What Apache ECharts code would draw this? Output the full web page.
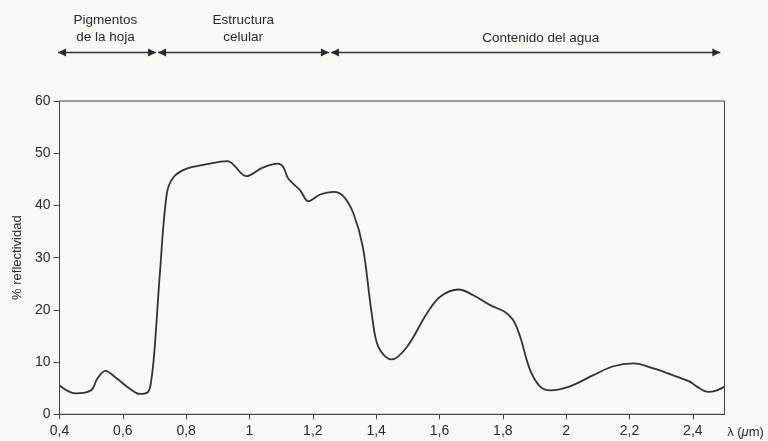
<!DOCTYPE html>
<html>
<head>
<meta charset="utf-8">
<script src="https://cdn.jsdelivr.net/npm/echarts@6/dist/echarts.min.js"></script>
<style>
html,body{margin:0;padding:0;background:#f8f8f6;}
#chart{width:768px;height:441px;}
</style>
</head>
<body>
<div id="chart"></div>
<script>
// ---- data ----
var wavelength = [0.40,0.45,0.50,0.52,0.545,0.58,0.62,0.655,0.68,0.69,0.70,0.717,0.739,0.76,0.80,0.865,0.93,0.99,1.04,1.09,1.107,1.123,1.16,1.186,1.223,1.265,1.296,1.328,1.358,1.386,1.407,1.449,1.497,1.56,1.602,1.66,1.707,1.76,1.807,1.833,1.855,1.886,1.918,1.95,2.01,2.086,2.149,2.212,2.276,2.349,2.392,2.413,2.449,2.476,2.5];
var reflectance = [5.5,4.0,4.6,6.9,8.3,6.9,5.0,3.9,4.3,6.6,12.3,27.0,42.3,45.4,47.0,47.9,48.5,45.6,47.2,48.0,47.3,45.1,42.9,40.8,42.1,42.6,41.8,38.5,32.0,19.3,12.9,10.5,12.9,19.3,22.5,23.9,22.8,20.9,19.6,18.0,14.8,8.5,5.3,4.6,5.3,7.5,9.2,9.75,8.8,7.2,6.2,5.3,4.3,4.6,5.3];
var regionLabels = ['Pigmentos\nde la hoja', 'Estructura\ncelular', 'Contenido del agua'];
var regionStart = [0.4, 0.708, 1.254];
var regionEnd = [0.708, 1.254, 2.49];
var regionLabelAt = [0.545, 0.98, 1.92];
var xAxisName = 'λ (μm)';
var yAxisName = '% reflectividad';

var points = wavelength.map(function (w, i) { return [w, reflectance[i]]; });
var font = "'Liberation Sans', Arial, sans-serif";
var txt = '#2a2a2a';

var chart = echarts.init(document.getElementById('chart'));
chart.setOption({
  backgroundColor: '#f8f8f6',
  animation: false,
  grid: {left: 59.5, right: 43.5, top: 101, bottom: 26.7, show: true, borderColor: '#444', borderWidth: 1, backgroundColor: 'transparent'},
  xAxis: {
    type: 'value', min: 0.4, max: 2.5, interval: 0.2,
    axisLine: {lineStyle: {color: '#444', width: 1}},
    axisTick: {show: true, length: 5, lineStyle: {color: '#444'}},
    splitLine: {show: false},
    axisLabel: {
      color: txt, fontSize: 14, fontFamily: font, margin: 10, showMaxLabel: false,
      formatter: function (v) { if (Math.abs(v - 2.5) < 1e-6) return ''; return String(+v.toFixed(1)).replace('.', ','); }
    }
  },
  yAxis: {
    type: 'value', min: 0, max: 60, interval: 10,
    name: yAxisName, nameLocation: 'middle', nameGap: 36,
    nameTextStyle: {color: txt, fontSize: 13, fontFamily: font},
    axisLine: {show: true, lineStyle: {color: '#444', width: 1}},
    axisTick: {show: true, length: 6, lineStyle: {color: '#444'}},
    splitLine: {show: false},
    axisLabel: {color: txt, fontSize: 14, fontFamily: font, margin: 9}
  },
  series: [{
    type: 'line', data: points, smooth: 0.35, symbol: 'none',
    lineStyle: {color: '#333', width: 1.8}
  }]
});

function px(w) { return chart.convertToPixel({xAxisIndex: 0}, w); }
var lineY = 52.5;
var g = [];
function arrow(tipX, dir) {
  // dir = -1 pointing left, +1 pointing right
  var L = 8, H = 4;
  return {type: 'polygon', shape: {points: [[tipX, lineY], [tipX - dir * L, lineY - H], [tipX - dir * L, lineY + H]]}, style: {fill: '#2a2a2a'}};
}
for (var i = 0; i < regionLabels.length; i++) {
  var a = px(regionStart[i]) + (i === 0 ? -1.5 : 1);
  var b = px(regionEnd[i]) - 1;
  g.push({type: 'line', shape: {x1: a, y1: lineY, x2: b, y2: lineY}, style: {stroke: '#333', lineWidth: 1.6}});
  g.push(arrow(a, -1));
  g.push(arrow(b, 1));
  var lines = regionLabels[i].split('\n');
  var cx = px(regionLabelAt[i]);
  var baseY = lines.length === 1 ? 38 : 20;
  for (var k = 0; k < lines.length; k++) {
    g.push({type: 'text', x: cx, y: baseY + k * 17, style: {text: lines[k], fill: txt, font: '13.5px ' + font, align: 'center', verticalAlign: 'middle'}});
  }
}
// x axis name placed beside the last tick label, with italic mu
var nameRich = xAxisName.replace('μ', '{i|μ}');
g.push({type: 'text', x: px(2.5) + 21, y: 432, style: {text: nameRich, fill: txt, font: '13px ' + font, align: 'center', verticalAlign: 'middle',
  rich: {i: {fontStyle: 'italic', fontSize: 13, fontFamily: font, fill: txt}}}});
chart.setOption({graphic: g});
</script>
</body>
</html>
